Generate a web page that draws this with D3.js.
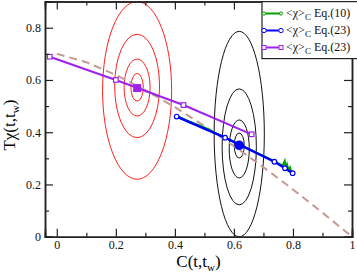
<!DOCTYPE html>
<html>
<head>
<meta charset="utf-8">
<script src="https://cdn.jsdelivr.net/npm/d3@7"></script>
<style>
body { margin: 0; background: #fff; }
svg text { font-family: "Liberation Serif", "DejaVu Serif", serif; }
</style>
</head>
<body>
<svg id="chart"></svg>
<script>
// tick values
var xTicks = [0, 0.2, 0.4, 0.6, 0.8, 1];
var xMinor = [0.1, 0.3, 0.5, 0.7, 0.9];
var yTicks = [0, 0.2, 0.4, 0.6, 0.8];
var yMinor = [0.1, 0.3, 0.5, 0.7];

// dashed reference curve
var dashC = [0, 0.1, 0.2, 0.3, 0.4, 0.5, 0.6, 0.7, 0.8, 0.9, 1];
var dashT = [0.70, 0.668, 0.619, 0.561, 0.496, 0.424, 0.347, 0.266, 0.181, 0.092, 0];

// <chi>_C Eq.(10) (green)
var eq10C = [0.405, 0.45, 0.5, 0.55, 0.6, 0.65, 0.7, 0.74, 0.765, 0.772, 0.776, 0.78, 0.785, 0.79, 0.795, 0.8];
var eq10T = [0.463, 0.44, 0.418, 0.39, 0.363, 0.336, 0.309, 0.287, 0.272, 0.29, 0.262, 0.276, 0.255, 0.265, 0.246, 0.252];

// <chi>_C Eq.(23) (blue)
var eq23bC = [0.406, 0.57, 0.737, 0.773, 0.799];
var eq23bT = [0.46, 0.379, 0.287, 0.262, 0.243];

// <chi>_C Eq.(23) (purple)
var eq23pC = [-0.024, 0.2, 0.429, 0.66];
var eq23pT = [0.689, 0.6, 0.504, 0.392];

// big markers
var bluePoint = [0.618, 0.35];
var purplePoint = [0.272, 0.569];

// contour rings: centre C, centre T, half width, half height (data units)
var redCx = 0.272;
var redCy = [0.560, 0.577, 0.571, 0.572];
var redRx = [0.117, 0.076, 0.044, 0.021];
var redRy = [0.340, 0.198, 0.109, 0.053];

var blackCx = 0.618;
var blackCy = [0.393, 0.344, 0.336, 0.349];
var blackRx = [0.085, 0.058, 0.034, 0.017];
var blackRy = [0.393, 0.222, 0.111, 0.048];

var legendNames = ["Eq.(10)", "Eq.(23)", "Eq.(23)"];
var colors = ["#00a000", "#0000ff", "#a020f0"];

var W = 357, H = 276;
var svg = d3.select("#chart").attr("width", W).attr("height", H);

var x = d3.scaleLinear().domain([-0.04, 1]).range([45, 352]);
var y = d3.scaleLinear().domain([0, 0.9]).range([236.7, 1.6]);

var yBot = y.range()[0], yTop = y.range()[1], xLeft = x.range()[0], xRight = x.range()[1];

svg.append("clipPath").attr("id", "clip")
    .append("rect")
    .attr("x", xLeft).attr("y", yTop)
    .attr("width", xRight - xLeft)
    .attr("height", yBot - yTop);

var plot = svg.append("g").attr("clip-path", "url(#clip)");

// rings
function rings(cx, cys, rxs, rys, color) {
    plot.selectAll(null)
        .data(cys.map((c, i) => ({ cy: c, rx: rxs[i], ry: rys[i] })))
        .join("ellipse")
        .attr("cx", x(cx))
        .attr("cy", d => y(d.cy))
        .attr("rx", d => x(cx + d.rx) - x(cx))
        .attr("ry", d => y(d.cy) - y(d.cy + d.ry))
        .attr("fill", "none")
        .attr("stroke", color)
        .attr("stroke-width", 1);
}
rings(redCx, redCy, redRx, redRy, "#ff2020");
rings(blackCx, blackCy, blackRx, blackRy, "#111");

var line = d3.line().x(d => x(d[0])).y(d => y(d[1]));

plot.append("path")
    .datum(dashC.map((c, i) => [c, dashT[i]]))
    .attr("d", line)
    .attr("fill", "none")
    .attr("stroke", "#c49a94")
    .attr("stroke-width", 2)
    .attr("stroke-dasharray", "8,5");

// series
var series = [
    { c: eq10C, t: eq10T, color: colors[0], w: 2, mark: "circle" },
    { c: eq23bC, t: eq23bT, color: colors[1], w: 2.5, mark: "circle" },
    { c: eq23pC, t: eq23pT, color: colors[2], w: 2, mark: "square" }
];

series.forEach(s => {
    var pts = s.c.map((c, i) => [c, s.t[i]]);
    plot.append("path")
        .datum(pts)
        .attr("d", line)
        .attr("fill", "none")
        .attr("stroke", s.color)
        .attr("stroke-width", s.w);
    if (s.mark === "circle") {
        plot.selectAll(null).data(s.color === colors[0] ? [] : pts).join("circle")
            .attr("cx", d => x(d[0])).attr("cy", d => y(d[1])).attr("r", 2.3)
            .attr("fill", "#fff").attr("stroke", s.color).attr("stroke-width", 1.2);
    } else {
        plot.selectAll(null).data(pts).join("rect")
            .attr("x", d => x(d[0]) - 2.3).attr("y", d => y(d[1]) - 2.3)
            .attr("width", 4.6).attr("height", 4.6)
            .attr("fill", "#fff").attr("stroke", s.color).attr("stroke-width", 1.2);
    }
});

plot.append("circle")
    .attr("cx", x(bluePoint[0])).attr("cy", y(bluePoint[1])).attr("r", 4.8)
    .attr("fill", colors[1]);
plot.append("rect")
    .attr("x", x(purplePoint[0]) - 4).attr("y", y(purplePoint[1]) - 4)
    .attr("width", 8).attr("height", 8)
    .attr("fill", colors[2]);

// axes (ticks inside on all four sides)
function styleAxis(g) {
    g.select(".domain").attr("stroke", "#222").attr("stroke-width", 1.5);
    g.selectAll(".tick line").attr("stroke", "#222").attr("stroke-width", 1.2);
    g.selectAll("text").attr("font-size", 12).attr("fill", "#111")
        .attr("font-family", "Liberation Serif");
}
var fmt = d3.format("~g");

svg.append("g").attr("transform", `translate(0,${yBot})`)
    .call(d3.axisBottom(x).tickValues(xTicks).tickSize(-8).tickPadding(4).tickFormat(fmt))
    .call(styleAxis);
svg.append("g").attr("transform", `translate(0,${yBot})`)
    .call(d3.axisBottom(x).tickValues(xMinor).tickSize(-4).tickFormat(""))
    .call(styleAxis);
svg.append("g").attr("transform", `translate(0,${yTop})`)
    .call(d3.axisTop(x).tickValues(xTicks).tickSize(-8).tickFormat(""))
    .call(styleAxis);
svg.append("g").attr("transform", `translate(0,${yTop})`)
    .call(d3.axisTop(x).tickValues(xMinor).tickSize(-4).tickFormat(""))
    .call(styleAxis);
svg.append("g").attr("transform", `translate(${xLeft},0)`)
    .call(d3.axisLeft(y).tickValues(yTicks).tickSize(-8).tickPadding(4).tickFormat(fmt))
    .call(styleAxis);
svg.append("g").attr("transform", `translate(${xLeft},0)`)
    .call(d3.axisLeft(y).tickValues(yMinor).tickSize(-4).tickFormat(""))
    .call(styleAxis);
svg.append("g").attr("transform", `translate(${xRight},0)`)
    .call(d3.axisRight(y).tickValues(yTicks).tickSize(-8).tickFormat(""))
    .call(styleAxis);
svg.append("g").attr("transform", `translate(${xRight},0)`)
    .call(d3.axisRight(y).tickValues(yMinor).tickSize(-4).tickFormat(""))
    .call(styleAxis);

// axis titles
var xt = svg.append("text")
    .attr("x", (xLeft + xRight) / 2).attr("y", 267)
    .attr("text-anchor", "middle").attr("font-size", 17);
xt.append("tspan").text("C(t,t");
xt.append("tspan").text("w").attr("font-size", 11).attr("dy", 4);
xt.append("tspan").text(")").attr("dy", -4);

var yt = svg.append("text")
    .attr("transform", `translate(15,${(yTop + yBot) / 2 + 6}) rotate(-90)`)
    .attr("text-anchor", "middle").attr("font-size", 17);
yt.append("tspan").text("Tχ(t,t");
yt.append("tspan").text("w").attr("font-size", 11).attr("dy", 4);
yt.append("tspan").text(")").attr("dy", -4);

// legend
var lg = svg.append("g");
lg.append("rect")
    .attr("x", 262).attr("y", yTop).attr("width", 120).attr("height", 57)
    .attr("fill", "#fff").attr("stroke", "#222").attr("stroke-width", 1.2);
legendNames.forEach((name, i) => {
    var ly = 13.5 + i * 17;
    var s = series[i];
    lg.append("line").attr("x1", 264).attr("x2", 281).attr("y1", ly).attr("y2", ly)
        .attr("stroke", s.color).attr("stroke-width", 2);
    [264, 281].forEach(px => {
        if (s.mark === "circle") {
            lg.append("circle").attr("cx", px).attr("cy", ly).attr("r", i === 0 ? 1.6 : 2.2)
                .attr("fill", "#fff").attr("stroke", s.color).attr("stroke-width", 1);
        } else {
            lg.append("rect").attr("x", px - 2).attr("y", ly - 2).attr("width", 4).attr("height", 4)
                .attr("fill", "#fff").attr("stroke", s.color).attr("stroke-width", 1);
        }
    });
    var t = lg.append("text").attr("x", 286).attr("y", ly + 3.5).attr("font-size", 12).attr("fill", "#111");
    t.append("tspan").text("<χ>");
    t.append("tspan").text("C").attr("font-size", 9).attr("dy", 3);
    t.append("tspan").text(" " + name).attr("dy", -3);
});
</script>
</body>
</html>
